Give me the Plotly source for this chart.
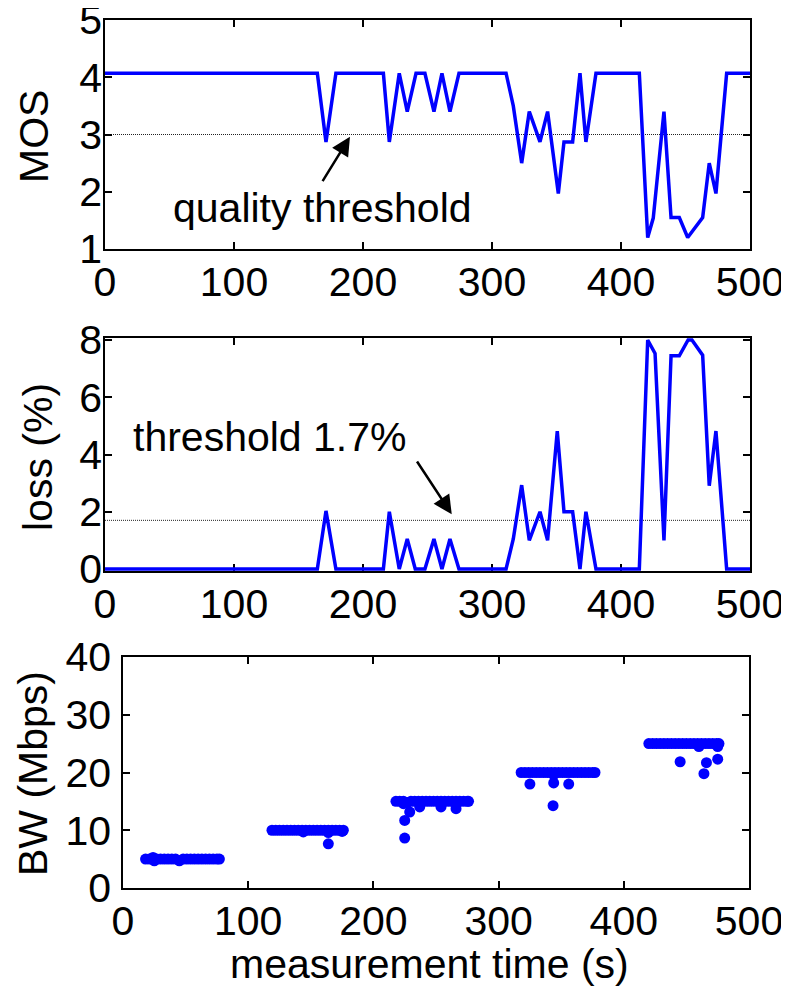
import plotly.graph_objects as go

# ---------------- data ----------------
mos_t = [0, 164.6, 171.3, 179, 215.8, 220.4, 228.1, 234.3, 241.1, 248, 255, 261.2, 267.4, 274.4,
         310.9, 316.5, 323, 328.9, 337.2, 343.1, 351.4, 355.8, 362.5, 368.2, 372.8, 380.6,
         414.2, 420.7, 425, 433.3, 438.8, 445.2, 451.7, 463.3, 468.4, 473.6, 481.9, 500]
mos = [4.07, 4.07, 2.87, 4.07, 4.07, 2.87, 4.07, 3.4, 4.07, 4.07, 3.4, 4.07, 3.4, 4.07,
       4.07, 3.5, 2.5, 3.4, 2.87, 3.4, 1.97, 2.87, 2.87, 4.07, 2.87, 4.07,
       4.07, 1.2, 1.54, 3.4, 1.55, 1.55, 1.2, 1.55, 2.5, 1.97, 4.07, 4.07]

loss_t = [0, 164.6, 171.3, 179, 215.8, 220.4, 228.1, 234.3, 240.5, 248, 255, 261.2, 267.4, 274.4,
          310.9, 316.5, 323, 328.9, 337.2, 343.1, 350.6, 355.8, 362.5, 368.2, 372.8, 380.6,
          414.2, 420.7, 426.4, 433.3, 438.8, 445.2, 452, 455, 463.3, 468.4, 473.6, 481.9, 500]
loss = [0, 0, 2.03, 0, 0, 2.0, 0, 1.05, 0, 0, 1.05, 0, 1.05, 0,
        0, 1.05, 2.93, 1.0, 2.0, 1.0, 4.82, 2.0, 2.0, 0, 2.0, 0,
        0, 8.0, 7.53, 1.0, 7.45, 7.45, 8.0, 8.0, 7.47, 2.91, 4.82, 0, 0]

MOS_THRESHOLD = 3
LOSS_THRESHOLD = 1.7

bw5_t = [18, 21, 24, 25, 27, 30, 33, 36, 39, 42, 45, 48, 51, 54, 57, 60, 63, 66, 69, 72, 75, 77]
bw5 = [5.0, 5.0, 5.3, 4.7, 5.0, 5.0, 5.0, 5.0, 5.0, 5.0, 4.7, 5.0, 5.0, 5.0, 5.0, 5.0, 5.0,
       5.0, 5.0, 5.0, 5.0, 5.0]

bw10_t = [119, 122, 125, 128, 131, 134, 137, 140, 143, 144, 146, 149, 152, 155, 158, 161,
          164, 164, 164, 167, 170, 173, 175, 176]
bw10 = [10.0, 10.0, 10.0, 10.0, 10.0, 10.0, 10.0, 10.0, 10.0, 9.7, 10.0, 10.0, 10.0, 10.0,
        10.0, 10.0, 10.0, 9.6, 7.65, 10.0, 10.0, 10.0, 9.8, 10.0]

bw15_t = [218, 221, 224, 224, 225, 225, 227, 229, 230, 233, 236, 237, 239, 242, 245, 248, 251,
          254, 254, 257, 260, 263, 266, 266, 269, 272, 275, 276]
bw15 = [15.0, 15.0, 15.0, 14.6, 8.64, 11.7, 14.8, 13.16, 15.0, 15.0, 15.0, 14.03, 15.0, 15.0,
        15.0, 15.0, 15.0, 15.0, 14.03, 15.0, 15.0, 15.0, 15.0, 13.74, 15.0, 15.0, 15.0, 15.0]

bw20_t = [318, 321, 324, 325, 327, 330, 333, 336, 339, 342, 343.5, 344, 344, 345, 348, 351,
          354, 356, 357, 360, 363, 366, 369, 372, 375, 377]
bw20 = [20.0, 20.0, 20.0, 18.0, 20.0, 20.0, 20.0, 20.0, 20.0, 20.0, 14.26, 18.2, 19.6, 20.0,
        20.0, 20.0, 20.0, 18.0, 20.0, 20.0, 20.0, 20.0, 20.0, 20.0, 20.0, 20.0]

bw25_t = [420, 423, 426, 429, 432, 435, 438, 441, 444, 445, 447, 450, 453, 456, 459, 460, 462,
          464, 465, 466, 468, 471, 474, 475, 475, 476]
bw25 = [25.0, 25.0, 25.0, 25.0, 25.0, 25.0, 25.0, 25.0, 25.0, 21.86, 25.0, 25.0, 25.0, 25.0,
        25.0, 24.5, 25.0, 19.8, 25.0, 21.7, 25.0, 25.0, 25.0, 22.3, 24.5, 25.0]

x_ticks = [0, 100, 200, 300, 400, 500]
mos_ticks = [1, 2, 3, 4, 5]
loss_ticks = [0, 2, 4, 6, 8]
bw_ticks = [0, 10, 20, 30, 40]

# ---------------- layout helpers ----------------
OFF = 8                    # page body margin
W, H = 789 - OFF, 991 - OFF
FONT = "Liberation Sans, Arial, sans-serif"
FS = 41
BLUE = "#0000ff"


def fx(px):
    return (px - OFF) / W


def fy(py):
    return 1 - (py - OFF) / H


fig = go.Figure()

fig.add_trace(go.Scatter(x=mos_t, y=mos, mode="lines", line=dict(color=BLUE, width=3.5),
                         xaxis="x", yaxis="y", showlegend=False))
fig.add_trace(go.Scatter(x=loss_t, y=loss, mode="lines", line=dict(color=BLUE, width=3.5),
                         xaxis="x2", yaxis="y2", showlegend=False))

bw_t = bw5_t + bw10_t + bw15_t + bw20_t + bw25_t
bw = bw5 + bw10 + bw15 + bw20 + bw25
fig.add_trace(go.Scatter(x=bw_t, y=bw, mode="markers",
                         marker=dict(color=BLUE, size=11, line=dict(width=0)),
                         xaxis="x3", yaxis="y3", showlegend=False))

common = dict(showline=True, linecolor="black", linewidth=1.5, mirror="ticks",
              ticks="inside", ticklen=7, tickwidth=1.5, tickcolor="black",
              showgrid=False, zeroline=False, layer="below traces", automargin=False,
              ticklabeloverflow="allow",
              tickfont=dict(family=FONT, size=FS, color="black"))

fig.update_layout(
    width=W, height=H, margin=dict(l=0, r=0, t=0, b=0, autoexpand=False),
    paper_bgcolor="white", plot_bgcolor="white",
    font=dict(family=FONT, size=FS, color="black"),
    xaxis=dict(domain=[fx(105), fx(750)], range=[0, 500], tickvals=x_ticks, anchor="y",
               ticklabelstandoff=-4, **common),
    yaxis=dict(domain=[fy(249), fy(20)], range=[1, 5], tickvals=mos_ticks, anchor="x",
               ticklabelstandoff=-7, **common),
    xaxis2=dict(domain=[fx(105), fx(750)], range=[0, 500], tickvals=x_ticks, anchor="y2",
                ticklabelstandoff=-4, **common),
    yaxis2=dict(domain=[fy(571), fy(338)], range=[-0.07, 8.07], tickvals=loss_ticks, anchor="x2",
                ticklabelstandoff=-7, **common),
    xaxis3=dict(domain=[fx(123), fx(749)], range=[0, 500], tickvals=x_ticks, anchor="y3",
                ticklabelstandoff=-4, **common),
    yaxis3=dict(domain=[fy(888), fy(657)], range=[0, 40], tickvals=bw_ticks, anchor="x3",
                ticklabelstandoff=2, **common),
)

# threshold lines
fig.add_shape(type="line", xref="x", yref="y", x0=0, x1=500, y0=MOS_THRESHOLD, y1=MOS_THRESHOLD,
              line=dict(color="#222222", width=1, dash="1px,1px"), layer="below")
fig.add_shape(type="line", xref="x2", yref="y2", x0=0, x1=500, y0=LOSS_THRESHOLD, y1=LOSS_THRESHOLD,
              line=dict(color="#222222", width=1, dash="1px,1px"), layer="below")

# arrows
arrow_style = dict(text="", showarrow=True, arrowhead=2, arrowsize=1.5, arrowwidth=2.5,
                   arrowcolor="black", standoff=0, startstandoff=0)
fig.add_annotation(x=189.9, y=2.962, xref="x", yref="y", ax=-28.3, ay=46, **arrow_style)
fig.add_annotation(x=268.8, y=1.91, xref="x2", yref="y2", ax=-35.7, ay=-54.3, **arrow_style)

# texts
txt = dict(showarrow=False, xref="paper", yref="paper", xanchor="center", yanchor="middle",
           font=dict(family=FONT, size=FS, color="black"))
fig.add_annotation(x=fx(322.5), y=fy(208), text="quality threshold", **txt)
fig.add_annotation(x=fx(270), y=fy(437), text="threshold 1.7%", **txt)
fig.add_annotation(x=fx(34), y=fy(137), text="MOS", textangle=-90, **txt)
fig.add_annotation(x=fx(38), y=fy(457), text="loss (%)", textangle=-90, **txt)
fig.add_annotation(x=fx(33), y=fy(774), text="BW (Mbps)", textangle=-90, **txt)
fig.add_annotation(x=fx(430), y=fy(964), text="measurement time (s)", **txt)

fig.write_html("out.html")
